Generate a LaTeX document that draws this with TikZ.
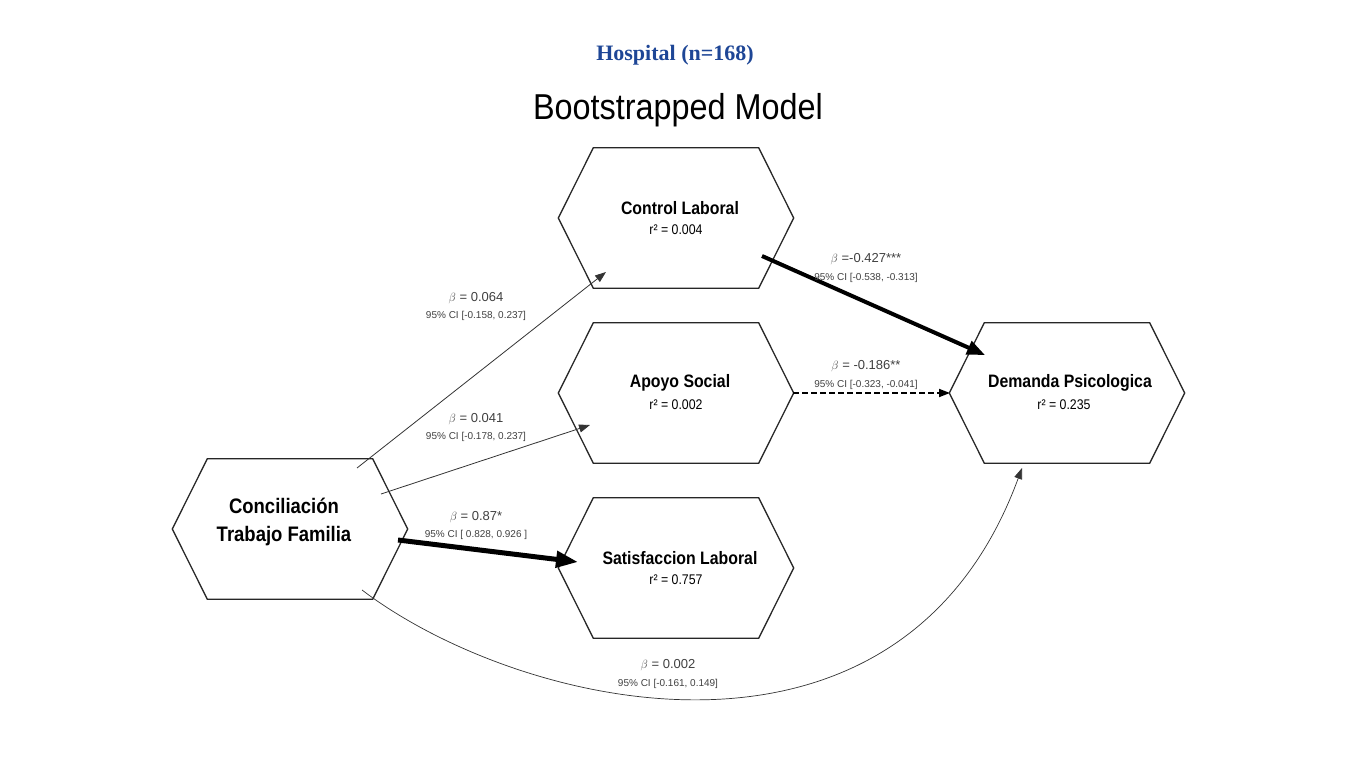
\documentclass[tikz,border=0pt]{standalone}
\usepackage{fontspec}
\setmainfont{Liberation Sans}
\newfontfamily\serifb{Liberation Serif}
\usetikzlibrary{arrows.meta}
\definecolor{hosp}{RGB}{30,70,150}
\begin{document}
\begin{tikzpicture}[x=1pt,y=-1pt,
  hexa/.style={draw=none,minimum width=235pt,minimum height=140pt,inner sep=0pt,align=center},
  hexline/.style={draw=black!85,line width=1.3pt},
  nm/.style={font=\fontsize{18}{20}\selectfont\bfseries},
  rr/.style={font=\fontsize{14}{15}\selectfont},
  lb/.style={font=\fontsize{13}{14}\selectfont,text=black!75},
  ci/.style={font=\fontsize{10}{11}\selectfont,text=black!75},
  arr/.style={-{Triangle[length=11pt,width=8pt]},draw=black!80}]
\useasboundingbox (0,0) rectangle (1350,759);
\node[font=\serifb\fontsize{22}{24}\selectfont\bfseries,text=hosp] (h) at (675,55) {Hospital (n=168)};
\node[font=\fontsize{40}{42}\selectfont,scale=0.9,xscale=0.9] (t) at (678,110) {Bootstrapped Model};
\newcommand{\hexdraw}[1]{\draw[hexline] (#1.west) -- ([xshift=35pt]#1.north west) -- ([xshift=-35pt]#1.north east) -- (#1.east) -- ([xshift=-35pt]#1.south east) -- ([xshift=35pt]#1.south west) -- cycle;}
\node[hexa] (cl) at (676,218) {}; \hexdraw{cl}
\node[hexa] (as) at (676,393) {}; \hexdraw{as}
\node[hexa] (sl) at (676,568) {}; \hexdraw{sl}
\node[hexa] (dp) at (1067,393) {}; \hexdraw{dp}
\node[hexa] (ct) at (290,529) {}; \hexdraw{ct}
\node[nm,xscale=0.88] (clt) at (680,208) {Control Laboral};
\node[rr,xscale=0.88] (clr) at (676,230) {r² = 0.004};
\node[nm,xscale=0.88] (ast) at (680,383) {Apoyo Social};
\node[rr,xscale=0.88] (asr) at (676,405) {r² = 0.002};
\node[nm,xscale=0.88] (slt) at (680,558) {Satisfaccion Laboral};
\node[rr,xscale=0.88] (slr) at (676,580) {r² = 0.757};
\node[nm,xscale=0.88] (dpt) at (1070,383) {Demanda Psicologica};
\node[rr,xscale=0.88] (dpr) at (1064,405) {r² = 0.235};
\node[nm,xscale=0.88,font=\fontsize{21}{24}\selectfont\bfseries,align=center] (ctt) at (284,522) {Conciliación\\[4pt]Trabajo Familia};
\coordinate (a1) at (357,468); \coordinate (b1) at (606,272);
\coordinate (a2) at (381,494); \coordinate (b2) at (590,425);
\coordinate (a3) at (398,540); \coordinate (b3) at (578,562);
\coordinate (a4) at (762,256); \coordinate (b4) at (985,355);
\coordinate (a5) at (793,393); \coordinate (b5) at (950,393);
\coordinate (a6) at (362,590); \coordinate (b6) at (1022,468);
\draw[arr,line width=0.8pt] (a1) -- (b1);
\draw[arr,line width=0.8pt] (a2) -- (b2);
\draw[arr,line width=5pt,-{Triangle[length=22pt,width=16pt]},draw=black] (a3) -- (b3);
\draw[arr,line width=4pt,-{Triangle[length=18pt,width=14pt]},draw=black] (a4) -- (b4);
\draw[arr,line width=1.8pt,dash pattern=on 6pt off 3pt,draw=black] (a5) -- (b5);
\draw[arr,line width=0.7pt] (a6) .. controls (520,710) and (900,800) .. (b6);
\node[lb] (l1) at (476,298) {$\beta$ = 0.064}; \node[ci] (c1) at (476,316) {95\% CI [-0.158, 0.237]};
\node[lb] (l2) at (476,419) {$\beta$ = 0.041}; \node[ci] (c2) at (476,437) {95\% CI [-0.178, 0.237]};
\node[lb] (l3) at (476,517) {$\beta$ = 0.87*}; \node[ci] (c3) at (476,535) {95\% CI [ 0.828, 0.926 ]};
\node[lb] (l4) at (866,259) {$\beta$ =-0.427***}; \node[ci] (c4) at (866,278) {95\% CI [-0.538, -0.313]};
\node[lb] (l5) at (866,366) {$\beta$ = -0.186**}; \node[ci] (c5) at (866,385) {95\% CI [-0.323, -0.041]};
\node[lb] (l6) at (668,665) {$\beta$ = 0.002}; \node[ci] (c6) at (668,684) {95\% CI [-0.161, 0.149]};
\end{tikzpicture}
\end{document}
